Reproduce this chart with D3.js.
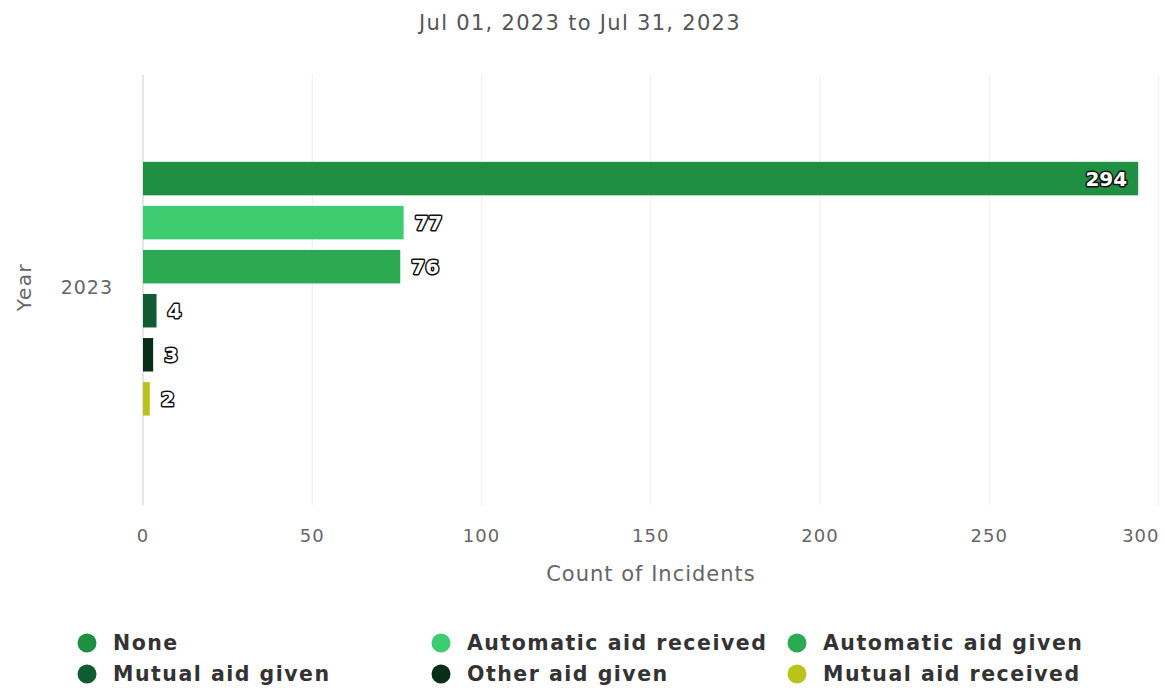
<!DOCTYPE html>
<html>
<head>
<meta charset="utf-8">
<script src="https://cdn.jsdelivr.net/npm/d3@7"></script>
<style>
	body { margin: 0; background: #fff; }
	text { font-family: "DejaVu Sans", Verdana, sans-serif; }
</style>
</head>
<body>
<div id="chart"></div>
<script>
var series = [
	"None",
	"Automatic aid received",
	"Automatic aid given",
	"Mutual aid given",
	"Other aid given",
	"Mutual aid received",
];
var counts = [294, 77, 76, 4, 3, 2];
var colors = ["#1f8f41", "#3ecc70", "#2caa52", "#105c32", "#0a2d18", "#b8c31c"];
var years = ["2023"];
var xTicks = [0, 50, 100, 150, 200, 250, 300];

var margin = { top: 75, right: 5, bottom: 185, left: 143 };
var width = 1164;
var height = 690;
var plotW = width - margin.left - margin.right;
var plotH = height - margin.top - margin.bottom;

var svg = d3
	.select("#chart")
	.append("svg")
	.attr("width", width)
	.attr("height", height);

var xScale = d3.scaleLinear().domain([0, 300]).range([0, plotW - 0.5]);
var yBand = d3.scaleBand().domain(years).range([0, plotH]);
var ySub = d3
	.scaleBand()
	.domain(series)
	.range([yBand.bandwidth() * 0.202, yBand.bandwidth() * 0.792])
	.paddingInner(0.24);

var g = svg
	.append("g")
	.attr("transform", "translate(" + margin.left + "," + margin.top + ")");

// grid
g.selectAll(".grid")
	.data(xTicks)
	.enter()
	.append("line")
	.attr("x1", (d) => xScale(d))
	.attr("x2", (d) => xScale(d))
	.attr("y1", 0)
	.attr("y2", plotH)
	.style("stroke", (d) => (d === 0 ? "#ccc" : "#eee"))
	.style("stroke-width", 1);

// tick labels
g.selectAll(".tick")
	.data(xTicks)
	.enter()
	.append("text")
	.attr("x", (d, i) => (i === xTicks.length - 1 ? xScale(d) + 1 : xScale(d)))
	.attr("y", plotH + 37)
	.style("text-anchor", (d, i) => (i === xTicks.length - 1 ? "end" : "middle"))
	.style("font-size", "18px")
	.style("letter-spacing", "1px")
	.style("fill", "#666")
	.text((d) => d);

svg.append("text")
	.attr("x", margin.left + plotW / 2)
	.attr("y", 581)
	.style("text-anchor", "middle")
	.style("font-size", "21px")
	.style("letter-spacing", "1px")
	.style("fill", "#666")
	.text("Count of Incidents");

svg.append("text")
	.attr("transform", "translate(31," + (margin.top + plotH / 2 - 3) + ") rotate(-90)")
	.style("text-anchor", "middle")
	.style("font-size", "20px")
	.style("letter-spacing", "1.5px")
	.style("fill", "#666")
	.text("Year");

g.selectAll(".ylab")
	.data(years)
	.enter()
	.append("text")
	.attr("x", -30)
	.attr("y", (d) => yBand(d) + yBand.bandwidth() / 2 - 3)
	.attr("dy", ".35em")
	.style("text-anchor", "end")
	.style("font-size", "19px")
	.style("letter-spacing", "1px")
	.style("fill", "#666")
	.text((d) => d);

svg.append("text")
	.attr("x", width / 2 - 2)
	.attr("y", 30)
	.style("text-anchor", "middle")
	.style("font-size", "21px")
	.style("letter-spacing", "1.3px")
	.style("fill", "#555")
	.text("Jul 01, 2023 to Jul 31, 2023");

// bars
var bars = g.selectAll(".bar").data(series).enter();
bars.append("rect")
	.attr("x", 0)
	.attr("y", (d) => yBand("2023") + ySub(d))
	.attr("width", (d, i) => xScale(counts[i]))
	.attr("height", ySub.bandwidth())
	.style("fill", (d, i) => colors[i]);

bars.append("text")
	.attr("x", (d, i) => (i === 0 ? xScale(counts[i]) - 11 : xScale(counts[i]) + 11))
	.attr("y", (d) => yBand("2023") + ySub(d) + ySub.bandwidth() / 2)
	.attr("dy", ".36em")
	.style("text-anchor", (d, i) => (i === 0 ? "end" : "start"))
	.style("font-size", "20px")
	.style("font-weight", "bold")
	.style("fill", "#fff")
	.style("stroke", "#111")
	.style("stroke-width", 3)
	.style("paint-order", "stroke")
	.style("stroke-linejoin", "round")
	.text((d, i) => counts[i]);

// legend
var colX = [87, 441, 797];
var rowY = [643, 674];
var legend = svg
	.selectAll(".legend")
	.data(series)
	.enter()
	.append("g")
	.attr("transform", (d, i) => "translate(" + colX[i % 3] + "," + rowY[Math.floor(i / 3)] + ")");

legend.append("circle").attr("r", 9.5).style("fill", (d, i) => colors[i]);

legend.append("text")
	.attr("x", 26)
	.attr("dy", ".36em")
	.style("font-size", "20.5px")
	.style("letter-spacing", "1.5px")
	.style("font-weight", "bold")
	.style("fill", "#333")
	.text((d) => d);
</script>
</body>
</html>
